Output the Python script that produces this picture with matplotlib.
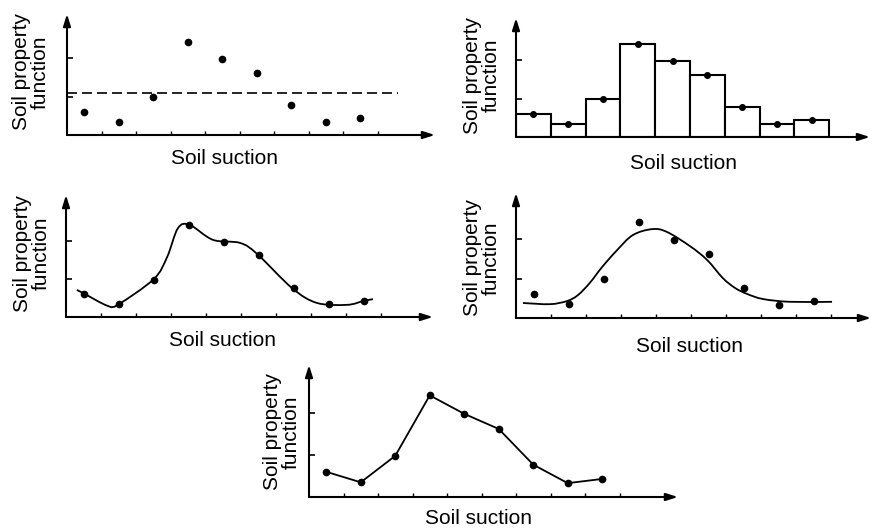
import matplotlib as mpl
mpl.use("Agg")
import matplotlib.pyplot as plt
from matplotlib.path import Path
from matplotlib.patches import PathPatch

# soil property measured in each suction interval (same data in every panel)
SUCTION = [0.5, 1.5, 2.5, 3.5, 4.5, 5.5, 6.5, 7.5, 8.5]
VALUES = [0.60, 0.35, 0.98, 2.42, 1.98, 1.62, 0.77, 0.33, 0.43]
BIN_EDGES = [0, 1, 2, 3, 4, 5, 6, 7, 8]
MEAN_VALUE = 1.08
MEAN_END = 9.6

# hand drawn smooth curve through the points (panel 3)
SMOOTH_X = [0.31, 0.49, 1.20, 1.51, 2.51, 2.89, 3.20, 3.54, 4.20, 4.97, 5.46, 6.46, 7.17, 8.03, 8.49, 8.77]
SMOOTH_Y = [0.71, 0.63, 0.29, 0.34, 1.00, 1.58, 2.34, 2.42, 2.03, 1.95, 1.66, 0.76, 0.37, 0.32, 0.42, 0.47]

# fitted bell curve (panel 4)
FIT_X = [0.20, 0.97, 1.46, 1.77, 2.11, 2.46, 2.89, 3.34, 3.89, 4.31, 4.97, 5.46, 5.91, 6.26, 6.60, 7.06, 7.83, 9.03]
FIT_Y = [0.38, 0.35, 0.43, 0.58, 0.89, 1.29, 1.72, 2.10, 2.25, 2.18, 1.82, 1.47, 1.01, 0.76, 0.61, 0.48, 0.41, 0.41]

X_TICKS = [1, 2, 3, 4, 5, 6, 7, 8, 9]
Y_TICKS = [1, 2]

X_LABEL = "Soil suction"
Y_LABEL = "Soil property\nfunction"

W, H = 873, 530
FONT = 15

plt.rcParams['font.family'] = ['Liberation Sans', 'DejaVu Sans']

fig = plt.figure(figsize=(W / 100.0, H / 100.0), dpi=100)


def make_axes(left, bottom, right, top, ux, uy, xticks=True):
    ax = fig.add_axes([left / W, 1 - bottom / H, (right - left) / W, (bottom - top) / H])
    ax.set_xlim(0, (right - left) / ux)
    ax.set_ylim(0, (bottom - top) / uy)
    for s in ax.spines.values():
        s.set_visible(False)
    ax.set_yticks(Y_TICKS)
    ax.set_xticks(X_TICKS if xticks else [])
    ax.tick_params(axis='y', direction='in', length=4.5, width=1.2, labelleft=False)
    ax.tick_params(axis='x', direction='in', length=3, width=1.0, labelbottom=False)
    arrow = dict(arrowstyle='-|>,head_length=0.7,head_width=0.22', lw=1.5, color='k',
                 shrinkA=0, shrinkB=0)
    ax.annotate('', xy=(0, 1), xytext=(0, 0), xycoords='axes fraction', arrowprops=arrow,
                annotation_clip=False)
    ax.annotate('', xy=(1, 0), xytext=(0, 0), xycoords='axes fraction', arrowprops=arrow,
                annotation_clip=False)
    return ax


def labels(xl, yl, yy, xy):
    # x label centre, y label centre (pixels)
    fig.text(xl / W, 1 - xy / H, X_LABEL, ha='center', va='center', fontsize=FONT)
    fig.text(yl / W, 1 - yy / H, Y_LABEL, ha='center', va='center', fontsize=FONT,
             rotation=90, linespacing=0.95, multialignment='center')


def smooth(ax, xs, ys):
    # catmull-rom through the knots, drawn as cubic bezier path
    pts = list(zip(xs, ys))
    verts = [pts[0]]
    codes = [Path.MOVETO]
    n = len(pts)
    for i in range(n - 1):
        p0 = pts[max(i - 1, 0)]
        p1 = pts[i]
        p2 = pts[i + 1]
        p3 = pts[min(i + 2, n - 1)]
        c1 = (p1[0] + (p2[0] - p0[0]) / 6.0, p1[1] + (p2[1] - p0[1]) / 6.0)
        c2 = (p2[0] - (p3[0] - p1[0]) / 6.0, p2[1] - (p3[1] - p1[1]) / 6.0)
        verts += [c1, c2, p2]
        codes += [Path.CURVE4] * 3
    ax.add_patch(PathPatch(Path(verts, codes), facecolor='none', edgecolor='k', lw=1.3))


# panel 1: points and mean
ax1 = make_axes(67, 135, 435, 14, 34.5, 38.5)
ax1.plot(SUCTION, VALUES, 'o', color='k', ms=4.5)
ax1.plot([0, MEAN_END], [MEAN_VALUE, MEAN_VALUE], color='k', lw=1.2, linestyle=(0, (6, 3)))
labels(225, 31, 72, 159)

# panel 2: histogram
ax2 = make_axes(516, 137, 870, 18, 34.8, 38.5, xticks=False)
ax2.bar(BIN_EDGES, VALUES, width=1, align='edge', facecolor='white', edgecolor='k', lw=1.5)
ax2.plot(SUCTION, VALUES, 'o', color='k', ms=4)
labels(683, 482, 75, 164)

# panel 3: smooth curve through points
ax3 = make_axes(66, 317, 433, 195, 35, 38)
smooth(ax3, SMOOTH_X, SMOOTH_Y)
ax3.plot(SUCTION, VALUES, 'o', color='k', ms=4.5)
labels(223, 32, 253, 341)

# panel 4: fitted curve
ax4 = make_axes(516, 318, 871, 193, 35, 39.5)
smooth(ax4, FIT_X, FIT_Y)
ax4.plot(SUCTION, VALUES, 'o', color='k', ms=4.5)
labels(689, 482, 258, 346)

# panel 5: straight segments
ax5 = make_axes(309, 497, 678, 365, 34.5, 42)
ax5.plot(SUCTION, VALUES, '-o', color='k', ms=4.5, lw=1.3)
labels(478, 282, 432, 519)

fig.savefig("out.png", dpi=100)
